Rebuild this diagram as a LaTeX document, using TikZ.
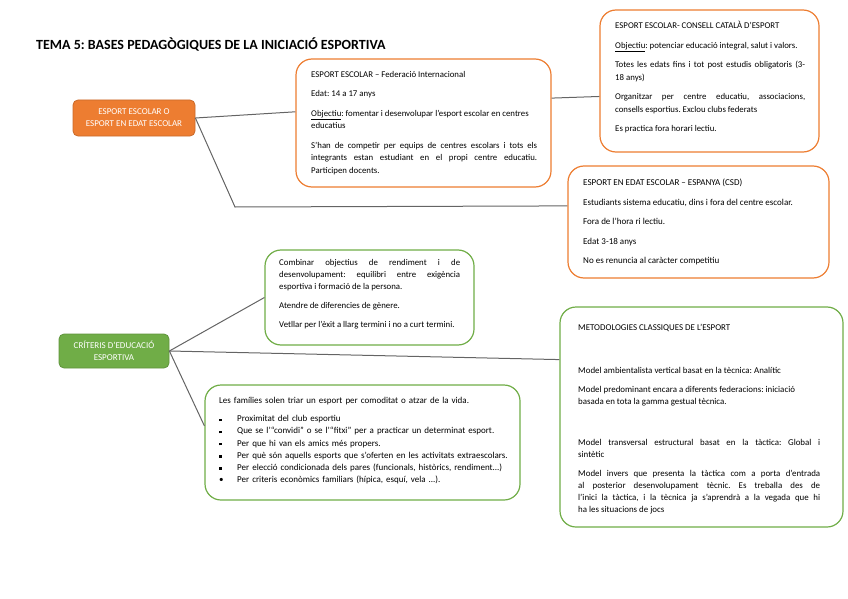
\documentclass[tikz,border=0pt]{standalone}
\usepackage{fontspec}
\setmainfont{Carlito}
\usepackage{tikz}
\definecolor{boxorange}{RGB}{237, 125, 49}
\definecolor{boxgreen}{RGB}{112, 173, 71}
\definecolor{linegray}{RGB}{100, 100, 100}
\hyphenpenalty=10000
\exhyphenpenalty=10000
\frenchspacing
\newcommand{\pgap}{\par\vspace{7pt}}
\newcommand{\sqitem}[1]{\makebox[18pt][l]{\rule[0.6pt]{2.4pt}{2.4pt}}#1\par}

\begin{document}
\begin{tikzpicture}[x=1pt, y=-1pt,
    hub/.style={rectangle, rounded corners=5pt, draw=#1!85!black, fill=#1,
                text=white, align=center, inner sep=0pt,
                font=\fontsize{9}{12}\selectfont, line width=0.8pt},
    card/.style={rectangle, rounded corners=16pt, draw=#1, fill=white,
                 inner sep=0pt, line width=1.2pt},
    txt/.style={anchor=north west, inner sep=0pt, text width=#1, align=justify},
    link/.style={draw=linegray, line width=1pt}
  ]
    \useasboundingbox (0,0) rectangle (848,599);

    \node[anchor=base west, inner sep=0pt, font=\fontsize{14}{16}\selectfont\bfseries]
      (title) at (36,50) {TEMA 5: BASES PEDAGÒGIQUES DE LA INICIACIÓ ESPORTIVA};

    % esport escolar
    \node[hub=boxorange, minimum width=122, minimum height=36] (escolar) at (134,118)
      {ESPORT ESCOLAR O\\ESPORT EN EDAT ESCOLAR};
    \node[card=boxorange, minimum width=255, minimum height=128] (federacio) at (423.5,123) {};
    \node[card=boxorange, minimum width=219, minimum height=142] (consell) at (709.5,81) {};
    \node[card=boxorange, minimum width=261, minimum height=112] (espanya) at (698.5,222) {};

    \node[txt=226, font=\fontsize{8.8}{12.5}\selectfont] (federacio-txt) at (311,71) {%
      ESPORT ESCOLAR -- Federació Internacional\pgap
      Edat: 14 a 17 anys\pgap
      \underline{Objectiu}: fomentar i desenvolupar l'esport escolar en centres\newline educatius\pgap
      S'han de competir per equips de centres escolars i tots els\linebreak integrants estan
      estudiant en el propi centre educatiu.\linebreak Participen docents.};
    \node[txt=190, font=\fontsize{8.8}{12.5}\selectfont] (consell-txt) at (615,21) {%
      ESPORT ESCOLAR- CONSELL CATALÀ D'ESPORT\pgap
      \underline{Objectiu}: potenciar educació integral, salut i valors.\pgap
      Totes les edats fins i tot post estudis obligatoris (3-\linebreak 18 anys)\pgap
      Organitzar per centre educatiu, associacions,\linebreak consells esportius. Exclou clubs federats\pgap
      Es practica fora horari lectiu.};
    \node[txt=228, font=\fontsize{9}{12.5}\selectfont] (espanya-txt) at (583,179) {%
      ESPORT EN EDAT ESCOLAR -- ESPANYA (CSD)\pgap
      Estudiants sistema educatiu, dins i fora del centre escolar.\pgap
      Fora de l'hora ri lectiu.\pgap
      Edat 3-18 anys\pgap
      No es renuncia al caràcter competitiu};

    % criteris
    \node[hub=boxgreen, minimum width=110, minimum height=34] (criteris) at (114,351)
      {CRÍTERIS D'EDUCACIÓ\\ESPORTIVA};
    \node[card=boxgreen, minimum width=209, minimum height=95] (combinar) at (369.5,297.5) {};
    \node[card=boxgreen, minimum width=315, minimum height=115] (families) at (362.5,442.5) {};
    \node[card=boxgreen, minimum width=283, minimum height=220] (metodologies) at (701.5,417) {};

    \node[txt=181, font=\fontsize{8.8}{12}\selectfont] (combinar-txt) at (279,259) {%
      Combinar objectius de rendiment i de\linebreak desenvolupament: equilibri entre exigència\linebreak
      esportiva i formació de la persona.\pgap
      Atendre de diferencies de gènere.\pgap
      Vetllar per l'èxit a llarg termini i no a curt termini.};
    \node[txt=295, align=left, font=\fontsize{9}{12.2}\selectfont] (families-txt) at (219,397) {%
      Les famílies solen triar un esport per comoditat o atzar de la vida.\par\vspace{6pt}
      \sqitem{Proximitat del club esportiu}
      \sqitem{Que se l'``convidi'' o se l'``fitxi'' per a practicar un determinat esport.}
      \sqitem{Per que hi van els amics més propers.}
      \sqitem{Per què són aquells esports que s'oferten en les activitats extraescolars.}
      \sqitem{Per elecció condicionada dels pares (funcionals, històrics, rendiment...)}
      \makebox[18pt][l]{\textbullet}Per criteris econòmics familiars (hípica, esquí, vela ...).};
    \node[txt=242, font=\fontsize{8.9}{12}\selectfont] (metodologies-txt) at (578,324) {%
      METODOLOGIES CLASSIQUES DE L'ESPORT\par\vspace{31pt}
      Model ambientalista vertical basat en la tècnica: Analític\pgap
      Model predominant encara a diferents federacions: iniciació\newline basada en tota la gamma gestual tècnica.\par\vspace{29pt}
      Model transversal estructural basat en la tàctica: Global i\linebreak sintètic\pgap
      Model invers que presenta la tàctica com a porta d'entrada\linebreak al posterior
      desenvolupament tècnic. Es treballa des de\linebreak l'inici la tàctica, i la tècnica ja
      s'aprendrà a la vegada que hi\linebreak ha les situacions de jocs};

    \coordinate (bend) at (235,207);
    \draw[link] (escolar.east) -- (federacio.175);
    \draw[link] (federacio.11) -- (consell.188);
    \draw[link] (escolar.east) -- (bend) -- (espanya.173);
    \draw[link] (criteris.east) -- (combinar.west);
    \draw[link] (criteris.east) -- (metodologies.158);
    \draw[link] (criteris.east) -- (families.174);
\end{tikzpicture}
\end{document}
